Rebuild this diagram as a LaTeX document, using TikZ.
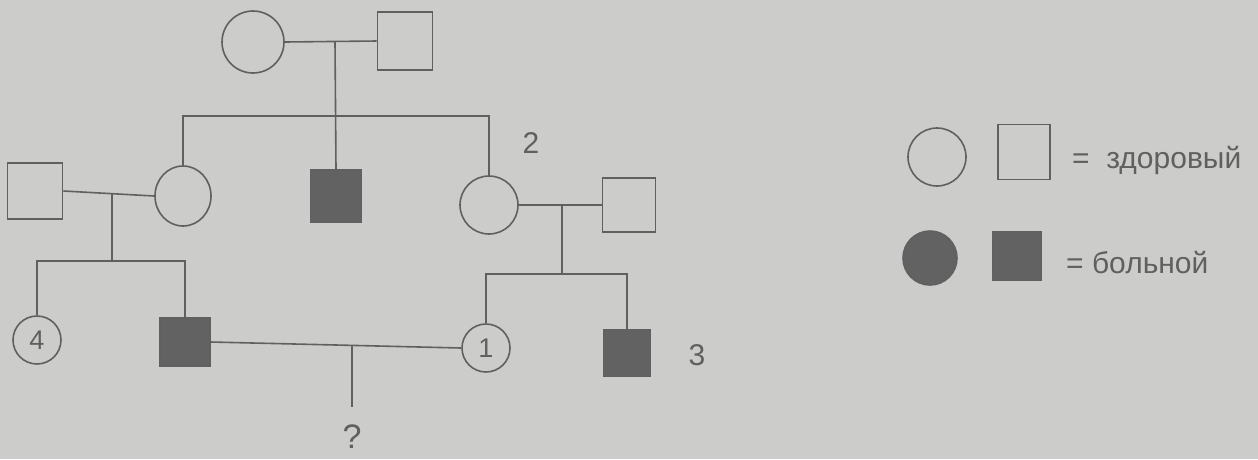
\documentclass[tikz,border=0pt]{standalone}
\usepackage{fontspec}
\setmainfont{Liberation Sans}
\usetikzlibrary{shapes.geometric}
\definecolor{bg}{RGB}{204,204,202}
\definecolor{ink}{RGB}{96,96,96}
\definecolor{sick}{RGB}{98,98,98}
\begin{document}
\begin{tikzpicture}[x=1pt,y=-1pt,
  line/.style={draw=ink,line width=1.6pt},
  fem/.style={ellipse,draw=ink,line width=1.6pt,inner sep=0pt},
  mal/.style={rectangle,draw=ink,line width=1.6pt,inner sep=0pt},
  ill/.style={fill=sick},
  lbl/.style={text=ink,inner sep=0pt,font=\fontsize{30}{30}\selectfont},
  leg/.style={text=ink,inner sep=0pt,anchor=west,font=\fontsize{30}{30}\selectfont}]
\fill[bg] (0,0) rectangle (1258,459);
\useasboundingbox (0,0) rectangle (1258,459);
% generation I
\node[fem,minimum width=62pt,minimum height=62pt] (gm) at (253,42) {};
\node[mal,minimum width=55pt,minimum height=58pt] (gf) at (405,41) {};
% generation II
\node[mal,minimum width=55pt,minimum height=56pt] (f2) at (35,191) {};
\node[fem,minimum width=56pt,minimum height=60pt] (c2) at (183,196) {};
\node[mal,ill,minimum width=51pt,minimum height=52pt] (a2) at (336,196) {};
\node[fem,minimum width=58pt,minimum height=58pt] (c3) at (489,205) {};
\node[mal,minimum width=53pt,minimum height=54pt] (h3) at (629,205) {};
% generation III
\node[fem,minimum width=48pt,minimum height=48pt,lbl,font=\fontsize{27}{27}\selectfont] (c4) at (37,340) {4};
\node[mal,ill,minimum width=50pt,minimum height=48pt] (a3) at (185,342) {};
\node[fem,minimum width=48pt,minimum height=48pt,lbl,font=\fontsize{27}{27}\selectfont] (c1) at (486,348) {1};
\node[mal,ill,minimum width=47pt,minimum height=47pt] (a4) at (627,353) {};
% labels
\node[lbl] (n2) at (531,143) {2};
\node[lbl] (n3) at (697,355) {3};
\node[lbl,font=\fontsize{34}{34}\selectfont] (q) at (352,437) {?};
% coordinates
\coordinate (m1) at (335,42);
\coordinate (s1) at (335,116);
\coordinate (m2) at (112,194);
\coordinate (s2) at (112,261);
\coordinate (m3) at (352,345);
\coordinate (qe) at (352,407);
\coordinate (m4) at (562,206);
\coordinate (s4) at (562,274);
% connectors
\draw[line] (gm.east) -- (gf.west);
\draw[line] (m1) -- (a2.north);
\draw[line] (c2.north) |- (s1) -| (c3.north);
\draw[line] (f2.east) -- (c2.west);
\draw[line] (m2) -- (s2);
\draw[line] (c4.north) |- (s2) -| (a3.north);
\draw[line] (c3.east) -- (h3.west);
\draw[line] (m4) -- (s4);
\draw[line] (c1.north) |- (s4) -| (a4.north);
\draw[line] (a3.east) -- (c1.west);
\draw[line] (m3) -- (qe);
% legend
\node[fem,minimum width=58pt,minimum height=58pt] (lc1) at (937,157) {};
\node[mal,minimum width=52pt,minimum height=55pt] (ls1) at (1024,152) {};
\node[leg] (lt1) at (1072,160) {=\ \ здоровый};
\node[fem,ill,minimum width=54pt,minimum height=54pt] (lc2) at (930,258) {};
\node[mal,ill,minimum width=49pt,minimum height=48pt] (ls2) at (1017,256) {};
\node[leg] (lt2) at (1066,263) {=\ больной};
\end{tikzpicture}
\end{document}
